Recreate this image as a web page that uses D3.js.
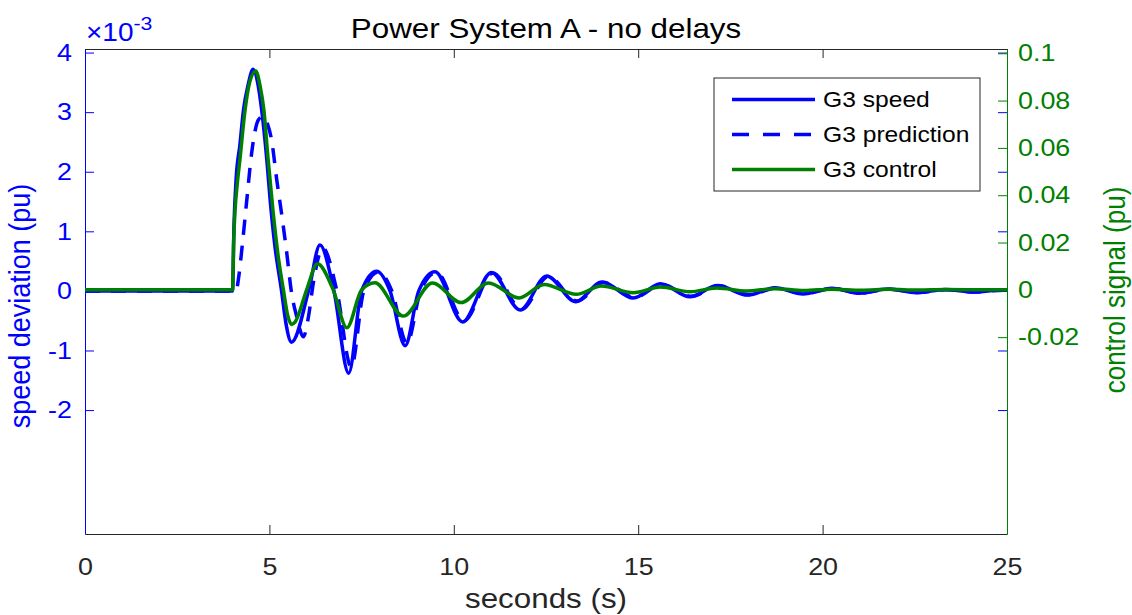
<!DOCTYPE html>
<html>
<head>
<meta charset="utf-8">
<script src="https://cdn.jsdelivr.net/npm/d3@7"></script>
<style>
  body { margin: 0; background: #fff; }
  svg { display: block; font-family: "Liberation Sans", Arial, sans-serif; }
</style>
</head>
<body>
<div id="chart"></div>
<script>
// time (s), speed deviation (x1e-3 pu)
const speedPts = [
  [0,0],[4.0,0],[4.04,1.1],[4.1,1.9],[4.2,2.45],[4.3,3.05],[4.42,3.45],[4.56,3.72],
  [4.68,3.5],[4.79,3.04],[4.93,2.2],[5.02,1.53],[5.15,0.75],[5.33,0.0],[5.45,-0.55],
  [5.6,-0.86],[6.08,0.05],[6.37,0.77],[6.75,0.0],[7.15,-1.38],[7.5,0.0],[7.91,0.33],
  [8.27,0.0],[8.68,-0.92],[9.05,0.0],[9.49,0.32],[10.24,-0.52],[11.02,0.31],[11.8,-0.32],
  [12.52,0.25],[13.3,-0.18],[14.02,0.15],[14.87,-0.12],[15.6,0.12],[16.4,-0.1],
  [17.15,0.09],[17.97,-0.07],[18.71,0.055],[19.47,-0.05],[20.25,0.045],[21.01,-0.04],
  [21.75,0.032],[22.55,-0.03],[23.32,0.025],[24.1,-0.02],[24.87,0.015],[25,0.012]
];

// time (s), predicted speed deviation (x1e-3 pu)
const predPts = [
  [0,0],[4.1,0],[4.16,0.2],[4.27,0.8],[4.38,1.48],[4.52,2.32],[4.7,2.87],[4.83,2.93],
  [4.95,2.8],[5.06,2.53],[5.2,1.86],[5.33,1.3],[5.47,0.64],[5.6,-0.03],[5.74,-0.43],
  [5.92,-0.77],[6.06,-0.43],[6.19,0.13],[6.45,0.72],[6.83,0.0],[7.22,-1.28],[7.56,0.0],
  [7.96,0.32],[8.32,0.0],[8.73,-0.88],[9.1,0.0],[9.53,0.31],[10.28,-0.5],[11.06,0.3],
  [11.84,-0.31],[12.56,0.24],[13.34,-0.17],[14.06,0.14],[14.91,-0.11],[15.64,0.11],
  [16.44,-0.09],[17.19,0.085],[18.01,-0.065],[18.75,0.05],[19.51,-0.045],[20.29,0.04],
  [21.05,-0.035],[21.79,0.03],[22.59,-0.025],[23.36,0.02],[24.14,-0.018],[24.91,0.013],[25,0.011]
];

// time (s), control signal (pu)
const controlPts = [
  [0,0],[4.0,0],[4.03,0.02],[4.07,0.034],[4.13,0.045],[4.2,0.055],[4.34,0.076],[4.47,0.088],
  [4.63,0.0925],[4.75,0.086],[4.85,0.076],[4.96,0.056],[5.1,0.033],[5.24,0.014],[5.38,0.0],
  [5.5,-0.011],[5.6,-0.0146],[5.7,-0.0135],[6.01,0.0],[6.3,0.011],[6.73,0.0],[7.1,-0.016],
  [7.5,0.0],[7.86,0.003],[8.63,-0.0111],[9.42,0.0029],[10.2,-0.0054],[10.94,0.0029],
  [11.77,-0.0034],[12.45,0.0023],[13.32,-0.0019],[14.0,0.0016],[14.87,-0.0012],[15.6,0.0012],
  [16.4,-0.0008],[17.13,0.0008],[17.95,-0.0005],[18.7,0.0005],[19.5,-0.0003],[20.25,0.0003],
  [21.05,-0.0002],[21.8,0.0002],[22.6,-0.0001],[23.3,0.0001],[25,0]
];

const xTicks = [0, 5, 10, 15, 20, 25];
const leftTicks = [-2, -1, 0, 1, 2, 3, 4];
const rightTicks = [-0.02, 0, 0.02, 0.04, 0.06, 0.08, 0.1];
const legendLabels = ["G3 speed", "G3 prediction", "G3 control"];

const W = 1132, H = 615;
const margin = {top: 49, right: 125, bottom: 81, left: 85},
    width = W - margin.left - margin.right,
    height = H - margin.top - margin.bottom;

const BLUE = "#0000ff", GREEN = "#008000", DARK = "#262626";
const SX = 1.12; // the reference text is a little wider than it is tall

const svg = d3.select("#chart").append("svg")
    .attr("width", W).attr("height", H);

const g = svg.append("g")
    .attr("transform", `translate(${margin.left},${margin.top})`);

const x = d3.scaleLinear().domain([0, 25]).range([0, width]);
const yL = d3.scaleLinear().domain([-4.08, 4.06]).range([height, 0]);
const yR = d3.scaleLinear().domain([-0.1032, 0.1018]).range([height, 0]);

// move x/y into a transform so the glyphs can be widened
function stretch(sel) {
  sel.each(function() {
    const t = d3.select(this);
    const tx = +t.attr("x") || 0, ty = +t.attr("y") || 0;
    t.attr("x", 0).attr("y", 0).attr("transform", `translate(${tx},${ty}) scale(${SX},1)`);
  });
}

g.append("clipPath").attr("id", "clip")
  .append("rect").attr("width", width).attr("height", height);

// axes, ticks drawn inward like matlab
const tickLen = 9;
const xb = g.append("g").attr("transform", `translate(0,${height})`)
    .call(d3.axisBottom(x).tickValues(xTicks).tickSizeInner(-tickLen).tickSizeOuter(0).tickPadding(24));
const xt = g.append("g")
    .call(d3.axisTop(x).tickValues(xTicks).tickSizeInner(-tickLen).tickSizeOuter(0).tickFormat(""));
[xb, xt].forEach(a => {
  a.select(".domain").attr("stroke", DARK);
  a.selectAll(".tick line").attr("stroke", DARK);
});
xb.selectAll(".tick text").attr("fill", DARK).style("font-size", "24px").attr("dy", "0.71em");

const yl = g.append("g")
    .call(d3.axisLeft(yL).tickValues(leftTicks).tickSizeInner(-tickLen).tickSizeOuter(0).tickPadding(13)
      .tickFormat(d => String(d)));
yl.select(".domain").attr("stroke", BLUE);
yl.selectAll(".tick line").attr("stroke", BLUE);
yl.selectAll(".tick text").attr("fill", BLUE).style("font-size", "24px");

// left ticks mirrored on the right side
const ylr = g.append("g").attr("transform", `translate(${width},0)`)
    .call(d3.axisRight(yL).tickValues(leftTicks).tickSizeInner(-tickLen).tickSizeOuter(0).tickFormat(""));
ylr.select(".domain").remove();
ylr.selectAll(".tick line").attr("stroke", BLUE);

const yr = g.append("g").attr("transform", `translate(${width},0)`)
    .call(d3.axisRight(yR).tickValues(rightTicks).tickSizeInner(-tickLen).tickSizeOuter(0).tickPadding(11)
      .tickFormat(d => d === 0 ? "0" : String(+d.toFixed(2))));
yr.select(".domain").attr("stroke", GREEN);
yr.selectAll(".tick line").attr("stroke", GREEN);
yr.selectAll(".tick text").attr("fill", GREEN).style("font-size", "24px");

svg.selectAll(".tick text").style("font-family", "'Liberation Sans', Arial, sans-serif");
stretch(svg.selectAll(".tick text"));

// lines
const lineL = d3.line().x(d => x(d[0])).y(d => yL(d[1])).curve(d3.curveMonotoneX);
const lineR = d3.line().x(d => x(d[0])).y(d => yR(d[1])).curve(d3.curveMonotoneX);

const plot = g.append("g").attr("clip-path", "url(#clip)");
plot.append("path").datum(speedPts).attr("d", lineL)
  .attr("fill", "none").attr("stroke", BLUE).attr("stroke-width", 3.5);
plot.append("path").datum(predPts).attr("d", lineL)
  .attr("fill", "none").attr("stroke", BLUE).attr("stroke-width", 3.5)
  .attr("stroke-dasharray", "15,11");
plot.append("path").datum(controlPts).attr("d", lineR)
  .attr("fill", "none").attr("stroke", GREEN).attr("stroke-width", 3.5);

// title + labels
const title = svg.append("text").attr("x", margin.left + width / 2).attr("y", 38)
  .attr("text-anchor", "middle").attr("fill", "#000").style("font-size", "28px")
  .text("Power System A - no delays");

const expo = svg.append("text").attr("x", 86).attr("y", 41).attr("fill", BLUE)
  .style("font-size", "25px");
expo.append("tspan").text("\u00d710");
expo.append("tspan").attr("dy", -11).style("font-size", "19px").text("-3");

const xlab = svg.append("text").attr("x", margin.left + width / 2).attr("y", 608)
  .attr("text-anchor", "middle").attr("fill", DARK).style("font-size", "28px")
  .text("seconds (s)");

stretch(title); stretch(expo); stretch(xlab);

svg.append("text").attr("transform", `translate(30,306) rotate(-90) scale(1,${SX})`)
  .attr("text-anchor", "middle").attr("fill", BLUE).style("font-size", "27px")
  .text("speed deviation (pu)");

svg.append("text").attr("transform", `translate(1125,290) rotate(-90) scale(1,${SX})`)
  .attr("text-anchor", "middle").attr("fill", GREEN).style("font-size", "26px")
  .text("control signal (pu)");

// legend
const legend = svg.append("g").attr("transform", "translate(714,78)");
legend.append("rect").attr("width", 266).attr("height", 113)
  .attr("fill", "#fff").attr("stroke", DARK).attr("stroke-width", 1);
const legendStyles = [
  {color: BLUE, dash: null},
  {color: BLUE, dash: "17,14"},
  {color: GREEN, dash: null}
];
legendLabels.forEach((lab, i) => {
  const yy = 21.5 + i * 35;
  legend.append("line").attr("x1", 18).attr("x2", 101).attr("y1", yy).attr("y2", yy)
    .attr("stroke", legendStyles[i].color).attr("stroke-width", 3.5)
    .attr("stroke-dasharray", legendStyles[i].dash);
  const t = legend.append("text").attr("x", 109).attr("y", yy).attr("dy", "0.35em")
    .attr("fill", "#000").style("font-size", "22px").text(lab);
  stretch(t);
});
</script>
</body>
</html>
